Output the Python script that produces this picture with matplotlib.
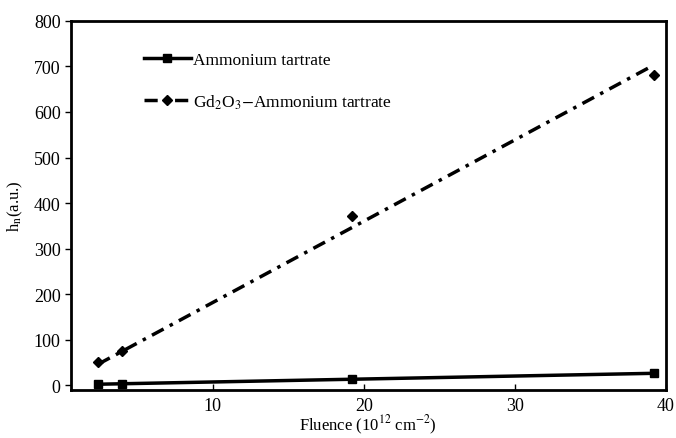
import numpy as np
import matplotlib
matplotlib.use('Agg')
import matplotlib.pyplot as plt

# Datos
fluencia = [2.4, 4.0, 19.2, 39.2]
hn_amonio = [2, 2, 13, 26]
hn_gd = [50, 75, 371, 681]

# Rectas de tendencia (extremos leidos)
ajuste_x = [2.4, 39.2]
ajuste_amonio = [2, 26]
ajuste_gd = [46, 703]

plt.rcParams['font.family'] = ['Liberation Serif', 'DejaVu Serif']
plt.rcParams['mathtext.fontset'] = 'stix'
plt.rcParams['font.size'] = 12

fig = plt.figure(figsize=(6.76, 4.39), dpi=100)
ax = fig.add_axes([0.105, 0.109, 0.880, 0.841])

estilo = (0, (3.8, 2, 1, 2))
ax.plot(ajuste_x, ajuste_amonio, color='black', lw=2.5)
ax.plot(fluencia, hn_amonio, ls='none', marker='s', ms=6, color='black')
ax.plot(ajuste_x, ajuste_gd, color='black', lw=2.5, ls=estilo)
ax.plot(fluencia, hn_gd, ls='none', marker='D', ms=5.5, color='black')

# lineas solo para la leyenda
h1, = ax.plot([], [], color='black', lw=2.5, marker='s', ms=6)
h2, = ax.plot([], [], color='black', lw=2.5, ls=estilo, marker='D', ms=5.5)
ax.legend([h1, h2], ['Ammonium tartrate', r'Gd$_2$O$_3$$-$Ammonium tartrate'],
          loc='upper left', bbox_to_anchor=(0.108, 0.94), frameon=False, fontsize=12.5,
          handlelength=2.7, handletextpad=0.15, labelspacing=1.4, borderpad=0)

ax.set_xlim(0.6, 40)
ax.set_ylim(-11, 800)
ax.set_xticks([10, 20, 30, 40])
ax.set_yticks(range(0, 801, 100))
ax.tick_params(axis='x', direction='in', length=4, width=1, labelsize=13, pad=5)
ax.tick_params(axis='y', direction='out', length=4, width=1, labelsize=13)
for s in ax.spines.values():
    s.set_linewidth(2)

ax.set_xlabel(r'Fluence (10$^{12}$ cm$^{-2}$)', fontsize=12, labelpad=-1)
ax.set_ylabel(r'h$_{\rm n}$(a.u.)', fontsize=12, labelpad=6)

fig.savefig('out.png', dpi=100)
